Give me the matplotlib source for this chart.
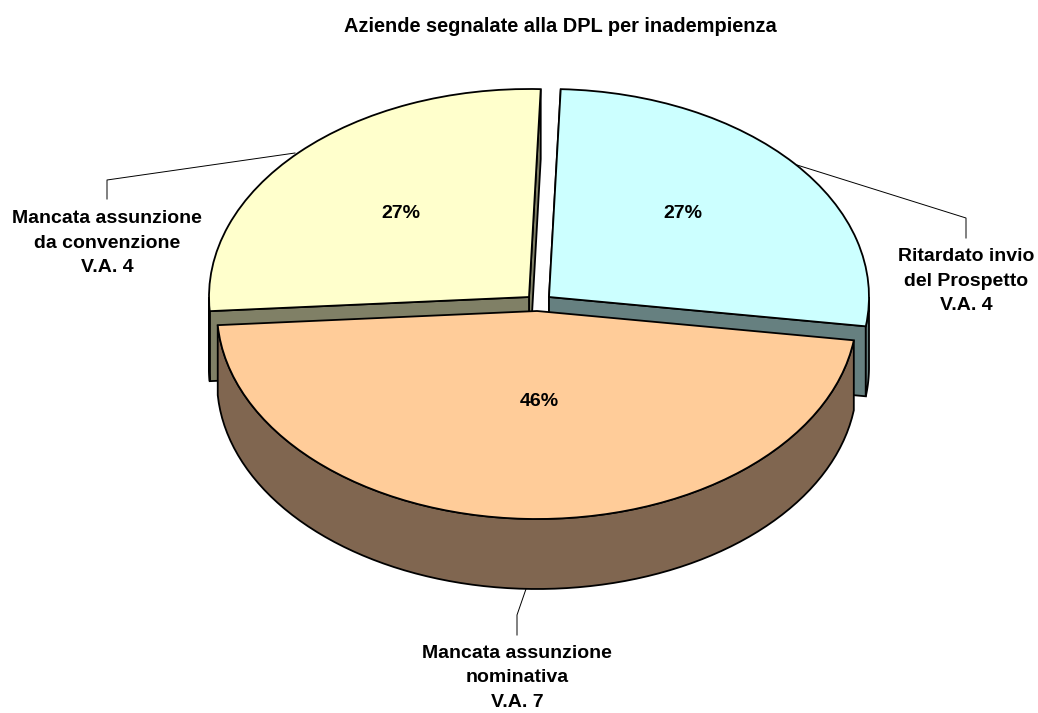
"""
Exploded 3D-look pie: Aziende segnalate alla DPL per inadempienza.
"""

import numpy as np
import matplotlib
matplotlib.use("Agg")
import matplotlib.pyplot as plt
from matplotlib.patches import Wedge, Polygon

plt.rcParams["font.family"] = ["Liberation Sans", "DejaVu Sans"]

# ============================================================
# Data
# ============================================================

title = "Aziende segnalate alla DPL per inadempienza"
values = [4, 4, 7]
labels = [
    "Ritardato invio\ndel Prospetto\nV.A. 4",
    "Mancata assunzione\nda convenzione\nV.A. 4",
    "Mancata assunzione\nnominativa\nV.A. 7",
]
pct_labels = ["27%", "27%", "46%"]

# ============================================================
# Layout (pixels of the 1038x713 picture)
# ============================================================

W, H = 1038, 713
CX, CY = 537, 311      # apex of the big slice
RX, RY = 320, 208      # ellipse half axes
DEPTH = 70 / RY
START = -8.1

top_colors = ["#CCFFFF", "#FFFFCC", "#FFCC99"]
side_colors = ["#668080", "#808066", "#806650"]
offsets = [(12 / RX, 14 / RY), (-8 / RX, 14 / RY), (0.0, 0.0)]

label_pos = [(966, 281), (107, 243), (517, 678)]
pct_pos = [(683, 213), (401, 213), (539, 401)]
leaders = [
    [(797, 165), (966, 218), (966, 238)],
    [(295, 153), (107, 180), (107, 199)],
    [(526, 589), (517, 615), (517, 635)],
]

LW = 1.3
FONT = 14.0


def to_unit(px, py):
    return (px - CX) / RX, (CY - py) / RY


def ring(theta1, theta2, center):
    t = np.radians(np.linspace(theta1, theta2, 80))
    return center[0] + np.cos(t), center[1] + np.sin(t)


def draw_face(ax, center, theta, color, z):
    # flat cut face going from the apex to the rim, pushed down by the depth
    t = np.radians(theta)
    x0, y0 = center
    x1, y1 = x0 + np.cos(t), y0 + np.sin(t)
    pts = [(x0, y0), (x1, y1), (x1, y1 - DEPTH), (x0, y0 - DEPTH)]
    ax.add_patch(Polygon(pts, closed=True, facecolor=color, edgecolor="black",
                         linewidth=LW, joinstyle="miter", zorder=z))


def draw_wall(ax, center, theta1, theta2, color, z):
    # curved outer wall, only the part that faces the viewer
    x, y = ring(theta1, theta2, center)
    xs = np.concatenate([x, x[::-1]])
    ys = np.concatenate([y, y[::-1] - DEPTH])
    ax.add_patch(Polygon(np.column_stack([xs, ys]), closed=True, facecolor=color,
                         edgecolor="black", linewidth=LW, zorder=z))


def run_plot():

    fig = plt.figure(figsize=(W / 100, H / 100), dpi=100)
    ax = fig.add_axes([0, 0, 1, 1])
    ax.set_xlim(to_unit(0, 0)[0], to_unit(W, 0)[0])
    ax.set_ylim(to_unit(0, H)[1], to_unit(0, 0)[1])
    ax.axis("off")

    sweep = 360.0 * np.array(values) / sum(values)
    edges = START + np.concatenate([[0], np.cumsum(sweep)])

    # back slices first
    # right slice
    draw_face(ax, offsets[0], edges[1], side_colors[0], 1)
    draw_face(ax, offsets[0], edges[0], side_colors[0], 2)
    draw_wall(ax, offsets[0], edges[0], 0.0, side_colors[0], 2)
    # left slice
    draw_face(ax, offsets[1], edges[1], side_colors[1], 1)
    draw_face(ax, offsets[1], edges[2], side_colors[1], 2)
    draw_wall(ax, offsets[1], 180.0, edges[2], side_colors[1], 2)
    # big slice wall
    draw_wall(ax, offsets[2], edges[2], edges[3], side_colors[2], 4)

    for i in range(len(values)):
        z = 5 if i == 2 else 3
        ax.add_patch(Wedge(offsets[i], 1.0, edges[i], edges[i + 1],
                           facecolor=top_colors[i], edgecolor="black",
                           linewidth=LW, joinstyle="miter", zorder=z))

    for path in leaders:
        xy = np.array([to_unit(*p) for p in path])
        ax.plot(xy[:, 0], xy[:, 1], color="black", linewidth=0.7, zorder=2.5)

    for text, pos in zip(pct_labels, pct_pos):
        x, y = to_unit(*pos)
        ax.text(x, y, text, ha="center", va="center", fontsize=FONT,
                fontweight="bold", color="black", zorder=6)

    for text, pos in zip(labels, label_pos):
        x, y = to_unit(*pos)
        ax.text(x, y, text, ha="center", va="center", fontsize=FONT,
                fontweight="bold", color="black", linespacing=1.55, zorder=6)

    x, y = to_unit(560, 26)
    ax.text(x, y, title, ha="center", va="center", fontsize=14.4,
            fontweight="bold", color="black")

    fig.savefig("out.png", dpi=100)


if __name__ == "__main__":
    run_plot()
